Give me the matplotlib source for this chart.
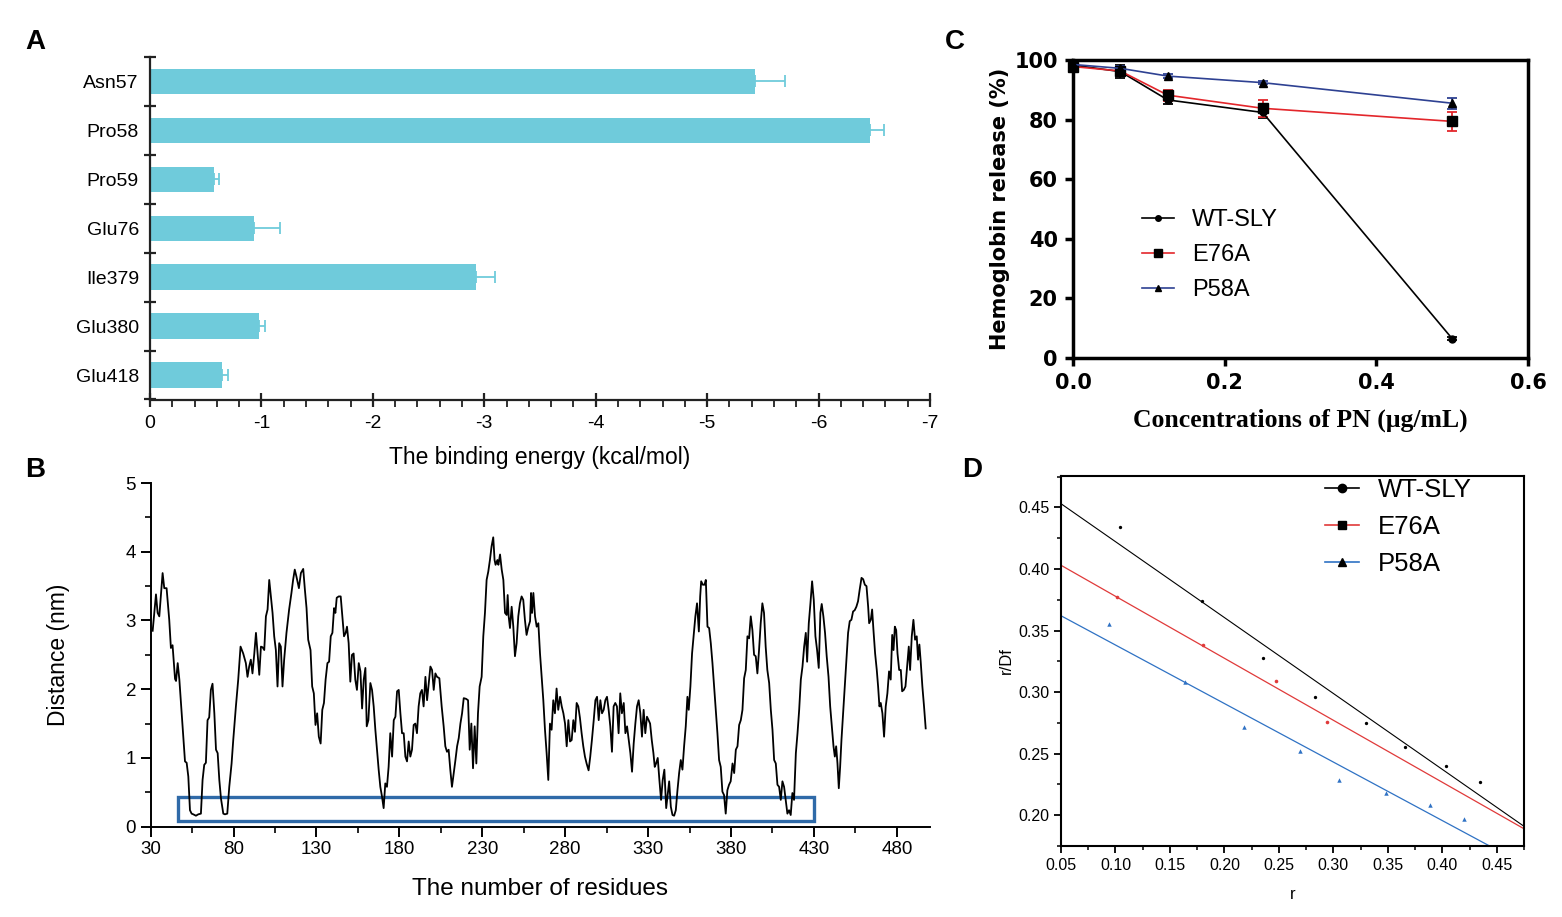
import numpy as np
import matplotlib
matplotlib.use('Agg')
import matplotlib.pyplot as plt
from matplotlib.lines import Line2D
from matplotlib.patches import Rectangle
from matplotlib.ticker import MultipleLocator, FixedLocator

plt.rcParams['font.family'] = ['Liberation Sans', 'DejaVu Sans']

# ---- panel A: binding energy per residue ----
residues_a = ['Asn57', 'Pro58', 'Pro59', 'Glu76', 'Ile379', 'Glu380', 'Glu418']
energy_a = np.array([-5.43, -6.46, -0.57, -0.93, -2.93, -0.98, -0.65])
err_a = np.array([0.27, 0.13, 0.05, 0.24, 0.17, 0.05, 0.05])

# ---- panel B: distance along the residues ----
res_b = [
    31.2, 33.2, 34.2, 35.2, 37.2, 38.2, 39.6, 41.2, 42.2, 43.2,
    44.7, 45.3, 46.3, 47.3, 48.7, 49.7, 50.7, 51.7, 52.7, 53.7,
    54.7, 55.7, 57.3, 58.7, 60.3, 61.3, 62.3, 63.3, 64.3, 65.3,
    66.3, 67.3, 68.4, 69.4, 70.4, 71.4, 72.4, 73.8, 74.8, 76.2,
    77.4, 78.8, 79.8, 81.4, 82.8, 84.2, 85.8, 87.4, 88.4, 89.4,
    90.4, 91.4, 92.5, 93.5, 94.5, 95.5, 96.5, 97.5, 98.5, 99.5,
    100.5, 101.5, 102.5, 103.5, 104.5, 105.5, 106.5, 107.5, 108.5, 109.5,
    110.5, 111.9, 113.5, 114.9, 115.9, 116.9, 117.9, 119.4, 120.6, 122.0,
    123.0, 124.0, 125.0, 126.4, 127.4, 128.4, 129.4, 130.4, 131.4,
    132.5, 133.5, 134.5, 135.5, 136.6, 137.6, 138.6, 139.6, 140.6, 141.4,
    142.2, 143.4, 144.6, 145.6, 146.6, 147.6, 148.4, 149.4, 150.4, 151.4,
    152.4, 153.4, 154.4, 155.5, 156.5, 157.5, 158.5, 159.5, 160.3, 161.3,
    162.5, 163.5, 164.5, 165.5, 166.5, 167.5, 168.5, 169.5, 170.5, 171.5,
    172.5, 173.5, 174.5, 175.6, 176.6, 177.6, 178.6, 179.6, 180.6, 181.6,
    182.6, 183.6, 184.6, 185.6, 186.6, 187.6, 188.6, 189.6, 190.6, 191.6,
    192.6, 193.6, 194.6, 195.7, 196.7, 197.7, 198.7, 199.7, 200.7, 201.7,
    202.7, 204.1, 205.5, 206.7, 207.7, 208.7, 209.7, 210.7, 211.7, 212.8,
    213.8, 214.8, 215.8, 216.8, 217.8, 218.8, 220.2, 221.4, 222.4, 223.4,
    224.4, 225.4, 226.4, 227.4, 228.4,
    229.6, 230.6, 231.6, 232.6, 233.6, 234.6, 235.6, 236.6, 237.4, 238.0,
    239.1, 239.7, 240.7, 241.7, 242.7, 243.7, 244.7, 245.3, 245.9, 246.7,
    247.7, 248.7, 249.7, 250.7, 251.7, 252.7, 253.7, 254.7, 255.7, 256.7,
    257.8, 258.8, 259.4, 260.0, 260.8, 261.8, 262.8, 263.8, 264.8, 265.8,
    266.8, 267.8, 268.8, 269.8, 270.8, 271.8, 272.8, 273.8, 274.8, 275.8,
    276.9, 277.9, 278.9, 279.9, 280.9, 281.9, 282.9, 283.9, 284.9, 285.9,
    286.9, 287.9, 288.9, 289.9, 290.9, 291.9, 292.9, 294.1, 295.1, 296.1,
    297.2, 298.2, 299.2, 300.2, 301.2, 302.2, 303.2, 304.2, 305.2, 306.2,
    307.2, 308.2, 309.2, 310.2, 311.2, 312.2, 313.2, 314.2, 315.3, 316.3,
    317.3, 318.3, 319.3, 320.3, 321.3, 322.3, 323.3, 324.3, 325.3, 326.3,
    327.3, 328.3, 329.3, 330.3,
    331.2, 332.2, 333.2, 334.0, 334.8, 335.8, 336.8, 337.8, 338.8, 339.8,
    340.9, 341.9, 342.7, 343.7, 344.7, 345.7, 346.7, 347.7, 348.7, 349.7,
    350.7, 351.7, 352.7, 353.7, 354.5, 355.5, 356.5, 357.5, 358.5, 359.5,
    360.6, 361.4, 362.0, 363.0, 364.0, 364.8, 365.8, 366.8, 367.8, 368.8,
    369.8, 370.8, 371.8, 372.8, 373.8, 374.8, 375.8, 376.8, 377.8, 378.8,
    379.8, 380.9, 381.9, 382.9, 383.9, 384.9, 385.9, 386.9, 387.9, 388.9,
    389.9, 390.9, 391.9, 392.9, 393.9, 394.9, 395.9, 396.9, 397.9, 398.9,
    399.9, 400.9, 401.9, 403.0, 404.0, 405.0, 406.0, 407.0, 408.0, 409.0,
    410.0, 411.0, 412.0, 413.0, 414.0, 415.0, 416.0, 417.0, 418.0, 419.1,
    420.1, 421.1, 422.1, 423.1, 424.1, 425.1, 425.9, 426.9, 427.9, 428.9,
    429.9, 430.9, 431.9, 432.9, 433.9,
    434.7, 435.7, 436.7, 437.7, 438.8, 439.8, 440.8, 441.8, 442.6, 443.4,
    444.2, 445.0, 445.8, 446.6, 447.6, 448.6, 449.6, 450.6, 451.6, 452.6,
    453.6, 454.6, 455.6, 456.6, 457.6, 458.7, 459.7, 460.7, 461.7, 462.7,
    463.3, 464.3, 465.1, 465.9, 466.9, 467.9, 468.7, 469.5, 470.3, 471.3,
    472.3, 473.3, 474.3, 475.3, 476.3, 477.2, 478.0, 478.8, 479.6, 480.4,
    481.4, 482.4, 483.2, 484.2, 485.2, 486.2, 487.2, 488.0, 489.0, 490.0,
    491.0, 492.0, 492.8, 493.6, 494.4, 495.4, 496.4, 497.4,
]
dist_b = [
    2.85, 3.38, 3.11, 3.06, 3.69, 3.47, 3.47, 3.01, 2.60, 2.64,
    2.15, 2.12, 2.38, 2.14, 1.65, 1.31, 0.95, 0.93, 0.73, 0.24,
    0.19, 0.18, 0.16, 0.18, 0.19, 0.68, 0.90, 0.93, 1.55, 1.59,
    1.99, 2.08, 1.65, 1.12, 1.07, 0.68, 0.41, 0.19, 0.18, 0.19,
    0.58, 0.92, 1.26, 1.75, 2.14, 2.62, 2.52, 2.38, 2.18, 2.33,
    2.43, 2.23, 2.52, 2.82, 2.52, 2.21, 2.62, 2.61, 2.57, 3.06,
    3.16, 3.59, 3.35, 3.11, 2.77, 2.57, 2.04, 2.67, 2.62, 2.04,
    2.43, 2.82, 3.16, 3.40, 3.59, 3.74, 3.64, 3.47, 3.69, 3.75,
    3.45, 3.18, 2.72, 2.57, 2.04, 1.94, 1.48, 1.65, 1.31,
    1.21, 1.70, 1.80, 2.14, 2.38, 2.40, 2.77, 2.82, 3.18, 3.11,
    3.33, 3.35, 3.35, 3.06, 2.77, 2.82, 2.91, 2.67, 2.11, 2.50,
    2.52, 2.14, 1.99, 2.38, 2.26, 1.72, 2.14, 2.31, 1.46, 1.55,
    2.09, 1.99, 1.75, 1.41, 1.12, 0.83, 0.58, 0.44, 0.27, 0.63,
    0.58, 0.87, 1.36, 1.02, 1.55, 1.60, 1.97, 1.99, 1.65, 1.36,
    1.36, 1.02, 0.95, 1.24, 1.02, 1.12, 1.48, 1.50, 1.36, 1.75,
    1.94, 1.99, 1.75, 2.18, 1.84, 2.09, 2.33, 2.28, 1.99, 2.23,
    2.18, 2.16, 1.75, 1.46, 1.17, 1.09, 1.12, 0.83, 0.58, 0.78,
    0.97, 1.17, 1.29, 1.50, 1.65, 1.87, 1.86, 1.84, 1.12, 1.50,
    0.85, 1.46, 0.92, 1.65, 2.04,
    2.18, 2.77, 3.11, 3.59, 3.71, 3.88, 4.08, 4.21, 3.88, 3.81,
    3.88, 3.81, 3.96, 3.74, 3.59, 3.11, 3.08, 3.37, 3.06, 2.89,
    3.20, 2.91, 2.48, 2.67, 3.06, 3.25, 3.35, 3.30, 3.01, 2.79,
    2.91, 2.99, 3.40, 3.11, 3.40, 3.06, 2.91, 2.96, 2.52, 2.18,
    1.84, 1.41, 1.07, 0.68, 1.50, 1.41, 1.84, 1.65, 2.01, 1.70,
    1.89, 1.75, 1.65, 1.50, 1.17, 1.55, 1.24, 1.26, 1.55, 1.38,
    1.80, 1.75, 1.58, 1.36, 1.17, 1.02, 0.92, 0.82, 1.02, 1.26,
    1.55, 1.84, 1.89, 1.55, 1.84, 1.65, 1.70, 1.84, 1.89, 1.70,
    1.46, 1.09, 1.75, 1.80, 1.75, 1.36, 1.94, 1.65, 1.80, 1.36,
    1.46, 1.26, 1.07, 0.80, 1.21, 1.50, 1.75, 1.84, 1.65, 1.31,
    1.70, 1.36, 1.60, 1.55,
    1.50, 1.26, 1.07, 0.87, 0.92, 1.00, 0.68, 0.39, 0.68, 0.83,
    0.27, 0.49, 0.66, 0.29, 0.17, 0.16, 0.24, 0.53, 0.78, 0.97,
    0.83, 1.17, 1.46, 1.89, 1.70, 2.04, 2.52, 2.79, 3.06, 3.25,
    2.84, 3.35, 3.57, 3.52, 3.52, 3.59, 2.91, 2.89, 2.67, 2.38,
    2.04, 1.70, 1.36, 0.97, 0.87, 0.51, 0.46, 0.19, 0.53, 0.61,
    0.66, 0.92, 0.78, 1.12, 1.17, 1.48, 1.55, 1.70, 2.16, 2.28,
    2.77, 2.74, 3.06, 2.86, 2.50, 2.48, 2.23, 2.57, 2.96, 3.25,
    3.11, 2.62, 2.28, 2.09, 1.70, 1.41, 0.97, 0.92, 0.61, 0.58,
    0.39, 0.66, 0.58, 0.39, 0.19, 0.24, 0.17, 0.49, 0.39, 1.07,
    1.36, 1.70, 2.14, 2.33, 2.62, 2.82, 2.40, 2.96, 3.25, 3.57,
    3.30, 2.77, 2.57, 2.31, 3.11,
    3.24, 3.06, 2.82, 2.48, 2.18, 1.75, 1.46, 1.17, 1.02, 1.17,
    0.92, 0.56, 0.87, 1.26, 1.65, 2.04, 2.43, 2.82, 2.99, 3.01,
    3.13, 3.15, 3.20, 3.28, 3.45, 3.62, 3.60, 3.52, 3.50, 3.20,
    2.96, 3.01, 3.16, 2.86, 2.52, 2.28, 2.04, 1.75, 1.80, 1.65,
    1.31, 1.75, 1.94, 2.26, 2.14, 2.79, 2.57, 2.91, 2.86, 2.52,
    2.28, 2.28, 1.97, 1.99, 2.04, 2.33, 2.62, 2.28, 2.77, 3.01,
    2.72, 2.77, 2.43, 2.65, 2.40, 2.04, 1.75, 1.43,
]
# highlighted low-distance window (residues, nm)
box_res = (46.7, 430.3)
box_dist = (0.087, 0.43)

# ---- panel C: hemoglobin release ----
conc_c = [0.0, 0.0625, 0.125, 0.25, 0.5]
wt_c = [98.3, 96.1, 86.6, 82.4, 6.5]
wt_err = [0.5, 2.3, 1.2, 2.0, 0.6]
e76a_c = [97.8, 96.3, 88.2, 83.8, 79.4]
e76a_err = [0.5, 1.5, 1.8, 2.8, 3.3]
p58a_c = [98.5, 97.2, 94.6, 92.4, 85.5]
p58a_err = [0.3, 0.8, 0.6, 0.6, 1.8]

# ---- panel D: Scatchard-type plot ----
r_wt = [0.104, 0.179, 0.235, 0.283, 0.330, 0.366, 0.403, 0.435]
rdf_wt = [0.434, 0.374, 0.328, 0.296, 0.275, 0.255, 0.240, 0.227]
r_e76a = [0.101, 0.180, 0.247, 0.294]
rdf_e76a = [0.377, 0.338, 0.309, 0.276]
r_p58a = [0.094, 0.164, 0.218, 0.269, 0.305, 0.348, 0.389, 0.420]
rdf_p58a = [0.355, 0.308, 0.272, 0.252, 0.229, 0.218, 0.208, 0.197]
fit_r = [0.05, 0.475]
fit_wt = [0.453, 0.191]
fit_e76a = [0.403, 0.189]
fit_p58a = [0.362, 0.160]

W, H = 1562, 917
fig = plt.figure(figsize=(W / 100, H / 100), dpi=100)


def px_axes(left, top, right, bottom):
    return fig.add_axes([left / W, 1 - bottom / H, (right - left) / W, (bottom - top) / H])


def panel_letter(x, y, s):
    fig.text(x / W, 1 - y / H, s, ha='center', va='center', fontsize=20, fontweight='bold')


# A
bar_color = '#6fcbdb'
axA = px_axes(150, 57, 930, 399.5)
ypos = np.arange(len(residues_a))
axA.barh(ypos, energy_a, height=0.52, color=bar_color)
axA.errorbar(energy_a, ypos, xerr=[err_a, np.zeros_like(err_a)], fmt='none',
             ecolor=bar_color, elinewidth=1.3, capsize=4, capthick=1.3)
axA.set_xlim(0, -7)
axA.set_ylim(len(residues_a) - 0.5, -0.5)
for s in ['top', 'right']:
    axA.spines[s].set_visible(False)
for s in ['left', 'bottom']:
    axA.spines[s].set_linewidth(1.6)
    axA.spines[s].set_color('#222222')
axA.set_yticks(ypos)
axA.set_yticklabels(residues_a, fontsize=14)
axA.tick_params(axis='y', which='major', length=0, pad=8)
axA.yaxis.set_minor_locator(FixedLocator(np.arange(-0.5, len(residues_a), 1.0)))
axA.tick_params(axis='y', which='minor', length=9, width=1.6, direction='inout', color='#222222')
axA.set_xticks(np.arange(0, -8, -1))
axA.set_xticklabels([str(v) for v in range(0, -8, -1)], fontsize=14)
axA.xaxis.set_minor_locator(MultipleLocator(0.2))
axA.tick_params(axis='x', which='major', length=10, width=1.6, direction='inout', color='#222222', pad=6)
axA.tick_params(axis='x', which='minor', length=5, width=1.3, direction='out', color='#222222')
axA.set_xlabel('The binding energy (kcal/mol)', fontsize=16.5, labelpad=10)
panel_letter(35, 42, 'A')

# B
axB = px_axes(150.67, 483, 930, 826.7)
axB.plot(res_b, dist_b, color='black', lw=1.3)
axB.add_patch(Rectangle((box_res[0], box_dist[0]), box_res[1] - box_res[0], box_dist[1] - box_dist[0],
                        fill=False, edgecolor='#2f6aa8', lw=2.4))
axB.set_xlim(30, 500)
axB.set_ylim(0, 5)
for s in ['top', 'right']:
    axB.spines[s].set_visible(False)
for s in ['left', 'bottom']:
    axB.spines[s].set_linewidth(1.4)
axB.set_xticks(np.arange(30, 481, 50))
axB.xaxis.set_minor_locator(FixedLocator(np.arange(55, 500, 50)))
axB.set_yticks(np.arange(0, 6, 1))
axB.yaxis.set_minor_locator(MultipleLocator(0.5))
axB.tick_params(axis='both', which='major', labelsize=13.5, length=7, width=1.4)
axB.tick_params(axis='both', which='minor', length=4, width=1.2)
axB.set_xlabel('The number of residues', fontsize=17.5, labelpad=14)
axB.set_ylabel('Distance (nm)', fontsize=16.5, labelpad=40)
panel_letter(35, 470, 'B')

# C
axC = px_axes(1073, 60, 1528, 358)
series_c = [
    ('WT-SLY', wt_c, wt_err, 'black', 'o', 5),
    ('E76A', e76a_c, e76a_err, '#e3262b', 's', 6.5),
    ('P58A', p58a_c, p58a_err, '#2e4192', '^', 6),
]
handles_c = []
for name, vals, errs, col, mk, ms in series_c:
    axC.errorbar(conc_c, vals, yerr=errs, color=col, lw=1.2, marker=mk, ms=ms,
                 mfc='black', mec='black', ecolor=col, elinewidth=1.3,
                 capsize=3.5, capthick=1.3, clip_on=False, zorder=3)
    handles_c.append(Line2D([], [], color=col, lw=1.2, marker=mk, ms=ms - 1,
                            mfc='black', mec='black'))
axC.set_xlim(0, 0.6)
axC.set_ylim(0, 100)
for s in axC.spines.values():
    s.set_linewidth(2.5)
axC.set_xticks([0.0, 0.2, 0.4, 0.6])
axC.set_yticks(np.arange(0, 101, 20))
axC.tick_params(axis='both', length=6, width=2.5, direction='out', pad=5)
for lab in axC.get_xticklabels() + axC.get_yticklabels():
    lab.set_family('DejaVu Sans')
    lab.set_fontweight('bold')
    lab.set_fontsize(15)
axC.set_xticklabels(['0.0', '0.2', '0.4', '0.6'])
axC.set_ylabel('Hemoglobin release (%)', fontsize=15, fontweight='bold',
               family='DejaVu Sans', labelpad=3)
axC.set_xlabel('Concentrations of PN (\u03bcg/mL)', fontsize=18.5, fontweight='bold',
               family=['Liberation Serif', 'DejaVu Serif'], labelpad=11)
axC.legend(handles_c, [s[0] for s in series_c], loc='upper left', bbox_to_anchor=(0.152, 0.50),
           frameon=False, fontsize=17, handlelength=1.36, handletextpad=0.76,
           labelspacing=0.55, borderaxespad=0, borderpad=0)
panel_letter(955, 42, 'C')

# D
axD = px_axes(1061, 476, 1524, 846)
axD.plot(fit_r, fit_wt, color='black', lw=0.8)
axD.plot(fit_r, fit_e76a, color='#e03a3a', lw=0.9)
axD.plot(fit_r, fit_p58a, color='#2f72c4', lw=0.9)
axD.plot(r_wt, rdf_wt, 'o', ms=2.4, color='black', mec='none')
axD.plot(r_e76a, rdf_e76a, 'o', ms=2.6, color='#e03a3a', mec='none')
axD.plot(r_p58a, rdf_p58a, '^', ms=3.2, color='#2f72c4', mec='none')
axD.set_xlim(0.05, 0.475)
axD.set_ylim(0.175, 0.4755)
for s in axD.spines.values():
    s.set_linewidth(1.5)
axD.set_xticks(np.arange(0.05, 0.451, 0.05))
axD.set_xticklabels(['%.2f' % v for v in np.arange(0.05, 0.451, 0.05)])
axD.xaxis.set_minor_locator(MultipleLocator(0.025))
axD.set_yticks(np.arange(0.20, 0.451, 0.05))
axD.set_yticklabels(['%.2f' % v for v in np.arange(0.20, 0.451, 0.05)])
axD.yaxis.set_minor_locator(MultipleLocator(0.025))
axD.tick_params(axis='both', which='major', labelsize=11.5, length=5, width=1.3, direction='out')
axD.tick_params(axis='both', which='minor', length=3, width=1.1, direction='out')
axD.set_xlabel('r', fontsize=12, labelpad=10)
axD.set_ylabel('r/Df', fontsize=12, labelpad=3)
handles_d = [
    Line2D([], [], color='black', lw=1.2, marker='o', ms=6, mfc='black', mec='black'),
    Line2D([], [], color='#e03a3a', lw=1.2, marker='s', ms=6, mfc='black', mec='black'),
    Line2D([], [], color='#2f72c4', lw=1.2, marker='^', ms=6, mfc='black', mec='black'),
]
axD.legend(handles_d, ['WT-SLY', 'E76A', 'P58A'], loc='upper left', bbox_to_anchor=(0.571, 0.995),
           frameon=False, fontsize=18.5, handlelength=1.29, handletextpad=0.74,
           labelspacing=0.5, borderaxespad=0, borderpad=0)
panel_letter(972, 470, 'D')

fig.savefig('out.png', dpi=100)
